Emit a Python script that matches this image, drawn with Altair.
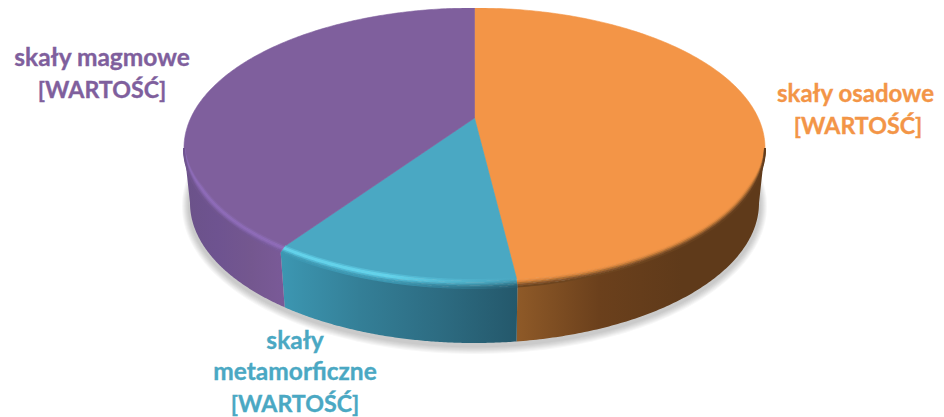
import math
import altair as alt
import pandas as pd

# Slices clockwise from the top of the pie
names = ["skały osadowe", "skały metamorficzne", "skały magmowe"]
shares = [48.1, 11.4, 40.5]
face_colors = ["#F39547", "#4AA8C3", "#7F5F9D"]
wall_stops = [
    ["#8F5A28", "#6B401C", "#5F3A1A", "#5F3A1A"],
    ["#3C97B2", "#347F97", "#2D6C82", "#24586B"],
    ["#6B5289", "#6E5390", "#74578F", "#7A5A98"],
]
rim_left = [
    ["#F39547", "#EE9245", "#D9853E", "#AE6E32", "#85532A", "#6E451F"],
    ["#55BCD6", "#62D2EA", "#62D2EA", "#50B8D3", "#429FB9", "#3C97B2"],
    ["#8364A5", "#8C6AB5", "#8E6BB8", "#8565AD", "#7A5C9E", "#70558F"],
]
rim_right = [
    ["#F39547", "#EE9245", "#D9853E", "#AE6E32", "#85532A", "#623C1C"],
    ["#4AA8C3", "#459FB8", "#3F92AA", "#357F95", "#2C6C80", "#265E72"],
    ["#8364A5", "#8C6AB5", "#8E6BB8", "#8565AD", "#7A5C9E", "#785A98"],
]
rim_steps = [1.0, 0.8, 0.6, 0.4, 0.2, 0.0]
RIM_Y, RIM_X = 8.0, 6.0

labels = [
    ("skały magmowe", 102, 66, "#7F5F9D", 24.5),
    ("[WARTOŚĆ]", 102, 98, "#7F5F9D", 23.2),
    ("skały osadowe", 855.5, 102, "#F39547", 24),
    ("[WARTOŚĆ]", 858, 134, "#F39547", 23.2),
    ("skały", 295, 349, "#4AA8C3", 24.5),
    ("metamorficzne", 295, 380, "#4AA8C3", 24.5),
    ("[WARTOŚĆ]", 295, 412, "#4AA8C3", 23.2),
]

# Pie geometry (chart coordinates)
CX, CY, A, B = 474.5, 148.0, 290.5, 140.0
APEX_Y = 118.0
DEPTH, A_LOW = 55.0, 284.5
K = 0.214
B0 = 133.6
R0 = A * math.sqrt(1 - K * K)


def ellipse_angle(theta):
    u, v = math.sin(theta), math.cos(theta)
    s = 1 / (1 + K * v)
    x = CX + R0 * s * u
    y = APEX_Y - B0 * s * v
    return math.atan2((x - CX) / A, (CY - y) / B)


def top_pt(phi, t=0.0):
    c, s = math.cos(phi), math.sin(phi)
    fade = max(0.0, min(1.0, -c / 0.3))
    return (CX + (A - RIM_X * t * fade) * s, CY - (B - RIM_Y * t * fade) * c)


def low_pt(phi):
    return (CX + A_LOW * math.sin(phi), CY + DEPTH - B * math.cos(phi))


def arc(a0, a1, n=120):
    return [a0 + (a1 - a0) * i / n for i in range(n + 1)]


boundaries = []
total = sum(shares)
acc = 0
for s in shares:
    t0 = 2 * math.pi * acc / total
    acc += s
    t1 = 2 * math.pi * acc / total
    p0 = ellipse_angle(t0)
    p1 = ellipse_angle(t1)
    if p0 < 0:
        p0 += 2 * math.pi
    while p1 <= p0:
        p1 += 2 * math.pi
    boundaries.append((p0, p1))

X = alt.X("x:Q", scale=alt.Scale(domain=[8, 936], nice=False, zero=False), axis=None)
Y = alt.Y("y:Q", scale=alt.Scale(domain=[417, 8], nice=False, zero=False), axis=None)


def frame(pts):
    return pd.DataFrame({"x": [p[0] for p in pts], "y": [p[1] for p in pts], "i": range(len(pts))})


def poly(pts, fill, stroke=None, sw=0.6, opacity=1.0):
    m = alt.Chart(frame(pts)).mark_line(
        fill=fill,
        stroke=stroke if stroke else (fill if isinstance(fill, str) else "transparent"),
        strokeWidth=sw,
        opacity=opacity,
        interpolate="linear",
    )
    return m.encode(x=X, y=Y, order=alt.Order("i:Q"))


def grad(stops, offsets=None):
    n = len(stops) - 1
    offs = offsets or [i / n for i in range(n + 1)]
    return alt.LinearGradient(
        gradient="linear", x1=0, y1=0, x2=1, y2=0,
        stops=[alt.GradientStop(offset=o, color=c) for o, c in zip(offs, stops)],
    )


layers = []

# Soft shadow below the pie
for k in range(7):
    grow = 8 - k
    pts = [(CX + (A_LOW + grow) * math.sin(p), CY + DEPTH + 3 - k * 0.1 - (B + grow) * math.cos(p))
           for p in arc(0, 2 * math.pi, 240)]
    layers.append(poly(pts, "#000000", stroke="transparent", sw=0, opacity=0.03))

# Walls
for (p0, p1), stops in zip(boundaries, wall_stops):
    a0 = max(p0, math.radians(90))
    a1 = min(p1, math.radians(270))
    if a1 <= a0:
        continue
    phis = arc(a0, a1)
    pts = [top_pt(p) for p in phis] + [low_pt(p) for p in reversed(phis)]
    layers.append(poly(pts, grad(stops), stroke="transparent", sw=0))

# Top faces (the front edge stops where the bevel starts)
for (p0, p1), col in zip(boundaries, face_colors):
    apex = (CX, APEX_Y)
    pts = [apex] + [top_pt(p, rim_steps[0]) for p in arc(p0, p1, 240)] + [apex]
    layers.append(poly(pts, col))

# Bevel along the front edge
for idx, (p0, p1) in enumerate(boundaries):
    a0 = max(p0, math.radians(90))
    a1 = min(p1, math.radians(270))
    for j, t in enumerate(rim_steps):
        pts = [top_pt(p, t) for p in arc(a0, a1)]
        st = grad([rim_left[idx][j], rim_left[idx][j], rim_right[idx][j]], [0, 0.45, 1])
        layers.append(
            alt.Chart(frame(pts))
            .mark_line(stroke=st, strokeWidth=2.0, interpolate="linear")
            .encode(x=X, y=Y, order=alt.Order("i:Q"))
        )

# Labels
for text, x, y, col, size in labels:
    layers.append(
        alt.Chart(pd.DataFrame({"x": [x], "y": [y], "t": [text]}))
        .mark_text(font="Lato", fontWeight="bold", fontSize=size, color=col, stroke=col,
                   strokeWidth=0.35, align="center", baseline="alphabetic")
        .encode(x=X, y=Y, text="t:N")
    )

chart = (
    alt.layer(*layers)
    .properties(width=928, height=409, padding=0, autosize=alt.AutoSizeParams(type="none"))
    .configure_view(stroke=None)
)
chart.save("out.html", embed_options={"renderer": "svg", "actions": False})
